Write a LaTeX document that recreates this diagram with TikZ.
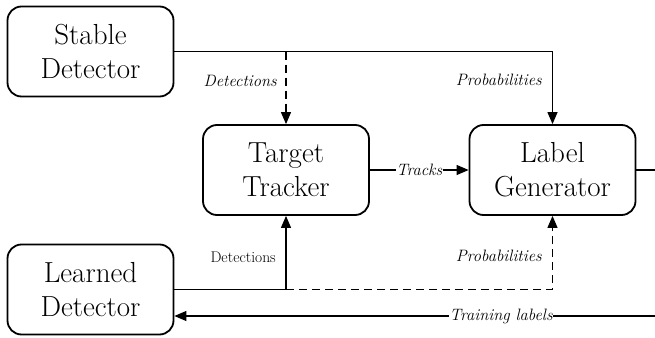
\documentclass[tikz,border=0pt]{standalone}
\usepackage{fontspec}
\usetikzlibrary{arrows.meta}
\begin{document}
\begin{tikzpicture}[x=1pt,y=-1pt,
 blk/.style={draw,line width=1.8pt,rounded corners=14pt,minimum width=166pt,minimum height=90pt,align=center,font=\fontsize{29}{34}\selectfont,inner sep=0pt},
 conn/.style={line width=1.2pt,-{Triangle[length=12pt,width=10pt]}},
 plain/.style={line width=1.2pt},
 dsh/.style={dash pattern=on 8pt off 5pt},
 lbl/.style={font=\fontsize{16.5}{18}\selectfont\itshape,inner sep=1pt},
 ulbl/.style={font=\fontsize{15.5}{18}\selectfont,inner sep=1pt}]
\useasboundingbox (0,0) rectangle (655,337);
\node[blk] (sd) at (90.5,51.5) {Stable\\Detector};
\node[blk] (tt) at (286,170) {Target\\Tracker};
\node[blk] (lg) at (552.5,170) {Label\\Generator};
\node[blk] (ld) at (90.5,289.5) {Learned\\Detector};
\coordinate (r1) at (655,170);
\coordinate (r2) at (655,316);
\coordinate (j) at (286,289.5);
% top
\draw[conn] (sd.east) -| (lg.north);
\draw[conn,dsh] (sd.east -| tt.north) -- (tt.north);
\node[lbl,anchor=east] at (278,81) {Detections};
\node[lbl,anchor=east] at (543,80) {Probabilities};
% middle
\draw[conn] (tt.east) -- node[lbl,fill=white,inner sep=0.5pt]{Tracks} (lg.west);
\draw[plain] (lg.east) -- (r1);
% bottom
\draw[plain] (ld.east) -- (j);
\draw[conn] (j) -- (tt.south);
\draw[conn,dsh] (j) -| (lg.south);
\node[ulbl,anchor=east] at (277,257) {Detections};
\node[lbl,anchor=east] at (543,256) {Probabilities};
\draw[conn] (r2) -- node[pos=0.32,lbl,fill=white,inner sep=0.5pt]{Training labels} (ld.east |- r2);
\end{tikzpicture}
\end{document}
